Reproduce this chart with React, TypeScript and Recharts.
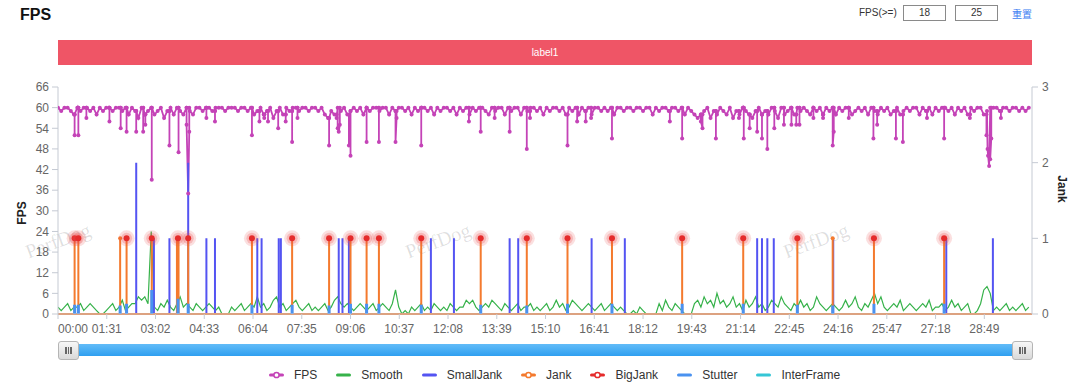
import { ComposedChart, Line, XAxis, YAxis } from 'recharts';

// colours of the series
const FPS_COLOR = '#c443b7';
const SMOOTH_COLOR = '#36b24a';
const SMALL_JANK_COLOR = '#5454f2';
const JANK_COLOR = '#f47a2e';
const BIG_JANK_COLOR = '#e52b2b';
const STUTTER_COLOR = '#4a92f0';
const INTERFRAME_COLOR = '#35c6d6';
const AXIS_COLOR = '#c5cad3';
const FONT = '"Liberation Sans", Arial, Helvetica, sans-serif';

// sampling step (seconds) of fpsBase / smoothValues, and end of the session
const STEP = 6;
const END = 1818;

// FPS, one value every 6 s
const fpsBase = [
  60, 59, 60, 60, 59, 58, 60, 59, 60, 60, 59, 60, 58, 60, 59, 60, 60, 59, 60, 60,
  59, 60, 58, 60, 59, 57, 60, 58, 59, 60, 58, 59, 60, 57, 59, 60, 58, 60, 59, 58,
  60, 59, 58, 60, 60, 59, 60, 60, 59, 60, 60, 60, 59, 60, 60, 60, 59, 60, 60, 59,
  60, 58, 59, 60, 58, 59, 60, 57, 59, 60, 58, 60, 59, 60, 60, 59, 60, 60, 59, 60,
  60, 59, 60, 58, 57, 59, 58, 60, 59, 60, 58, 59, 60, 59, 60, 58, 60, 59, 60, 60,
  59, 60, 60, 58, 60, 59, 60, 60, 59, 60, 58, 60, 59, 60, 60, 59, 60, 58, 60, 59,
  60, 60, 59, 60, 58, 60, 59, 60, 58, 60, 59, 60, 60, 59, 58, 60, 59, 60, 60, 58,
  60, 59, 60, 60, 58, 60, 59, 60, 60, 59, 60, 58, 60, 59, 60, 60, 59, 60, 58, 60,
  59, 60, 58, 60, 59, 60, 58, 60, 60, 59, 60, 59, 60, 58, 60, 60, 59, 60, 60, 59,
  60, 60, 59, 60, 60, 58, 60, 59, 60, 60, 59, 60, 60, 59, 60, 58, 60, 59, 58, 57,
  58, 59, 60, 57, 59, 58, 60, 59, 58, 60, 57, 59, 58, 60, 59, 58, 57, 59, 60, 58,
  59, 58, 60, 59, 57, 60, 58, 59, 60, 58, 60, 59, 60, 59, 58, 60, 59, 60, 58, 60,
  59, 60, 58, 60, 59, 60, 60, 58, 59, 60, 59, 60, 58, 60, 59, 58, 60, 59, 60, 58,
  59, 60, 58, 59, 60, 59, 60, 60, 58, 60, 59, 60, 58, 60, 59, 60, 60, 59, 60, 58,
  60, 59, 60, 58, 60, 59, 60, 60, 58, 59, 60, 60, 60, 59, 60, 60, 59, 60, 60, 59,
  60, 59, 60
];

// FPS drops: [second, fps]
const fpsDips = [
  [31, 52], [38, 52], [53, 57], [96, 56], [117, 54], [128, 53], [146, 53], [159, 53],
  [163, 55], [175, 39], [208, 49], [225, 47], [240, 55], [243, 35], [245, 53], [277, 57],
  [293, 56], [362, 52], [376, 56], [385, 57], [392, 56], [411, 54], [425, 56], [437, 50],
  [447, 57], [506, 49], [520, 57], [522, 54], [524, 53], [526, 55], [543, 49], [546, 46],
  [576, 50], [599, 50], [630, 50], [632, 57], [678, 49], [767, 56], [789, 53], [815, 57],
  [843, 53], [875, 48], [881, 57], [951, 49], [969, 56], [985, 56], [995, 57], [1034, 51],
  [1142, 56], [1165, 51], [1200, 56], [1203, 54], [1228, 51], [1271, 57], [1280, 51],
  [1291, 54], [1305, 53], [1314, 51], [1324, 48], [1337, 54], [1355, 55], [1369, 55],
  [1378, 55], [1384, 55], [1410, 57], [1428, 57], [1446, 49], [1448, 53], [1476, 57],
  [1522, 51], [1529, 55], [1564, 51], [1577, 50], [1622, 57], [1654, 51], [1702, 57],
  [1733, 52], [1735, 48], [1736, 46], [1738, 43], [1740, 45], [1742, 51], [1760, 57]
];

// Smooth, one value every 6 s
const smoothValues = [
  2, 1, 2, 3, 1, 2, 2, 3, 1, 2, 3, 2, 1, 0, 0, 1, 2, 3, 1, 2, 4, 1, 2, 3, 3, 5, 4, 5, 3, 24,
  2, 1, 3, 2, 4, 2, 1, 3, 5, 2, 3, 2, 1, 3, 2, 1, 2, 3, 2, 1, 2, 0, 0, 0, 2, 1, 2, 3, 1, 2,
  3, 2, 5, 2, 3, 1, 2, 4, 5, 2, 3, 1, 2, 3, 4, 2, 1, 2, 3, 1, 2, 1, 2, 3, 1, 2, 4, 5, 3, 2,
  3, 2, 1, 2, 3, 2, 1, 2, 3, 1, 2, 3, 2, 1, 3, 7, 2, 0, 1, 0, 2, 1, 2, 3, 1, 2, 1, 3, 2, 1,
  2, 1, 3, 2, 1, 2, 2, 4, 3, 4, 2, 1, 2, 3, 2, 4, 3, 2, 1, 3, 2, 1, 2, 3, 1, 2, 2, 3, 1, 2,
  1, 2, 3, 1, 2, 4, 2, 3, 1, 2, 4, 3, 2, 1, 2, 3, 2, 1, 2, 3, 1, 2, 3, 2, 1, 2, 1, 0, 0, 1,
  0, 2, 1, 0, 0, 0, 0, 3, 1, 4, 2, 1, 3, 2, 1, 0, 0, 0, 3, 4, 2, 5, 3, 4, 2, 6, 3, 4, 2, 3,
  5, 2, 3, 1, 4, 2, 3, 5, 2, 3, 1, 2, 4, 3, 2, 5, 3, 2, 1, 3, 2, 4, 2, 3, 1, 2, 5, 3, 2, 1,
  2, 3, 2, 1, 2, 4, 2, 3, 5, 2, 1, 3, 2, 4, 6, 3, 5, 2, 1, 2, 3, 2, 4, 1, 2, 3, 2, 1, 2, 3,
  2, 4, 1, 2, 2, 3, 1, 2, 4, 2, 3, 1, 2, 3, 0, 0, 1, 3, 7, 8, 6, 1, 2, 1, 2, 3, 1, 2, 1, 2,
  3, 1, 2
];

// [second, count]
const smallJank = [
  [146, 2], [179, 1], [208, 1], [243, 2], [277, 1], [293, 1], [372, 1], [380, 1], [412, 1],
  [416, 1], [524, 1], [531, 1], [543, 1], [696, 1], [739, 1], [843, 1], [859, 1], [996, 1],
  [1058, 1], [1305, 1], [1314, 1], [1324, 1], [1336, 1], [1447, 1], [1658, 1], [1745, 1]
];

const jankTimes = [
  31, 38, 116, 128, 175, 222, 225, 243, 362, 437, 506, 546, 576, 599, 678, 789, 875, 951,
  1034, 1165, 1279, 1380, 1446, 1523, 1654
];

const bigJankTimes = [
  31, 38, 128, 175, 224, 243, 362, 437, 506, 546, 576, 599, 678, 789, 875, 951, 1034, 1165,
  1279, 1380, 1523, 1654
];

// [second, value]
const stutter = [
  [31, 2.7], [38, 2.7], [116, 2.5], [128, 3], [175, 7], [224, 4.4], [243, 3], [362, 2.7],
  [437, 2.7], [506, 2.5], [546, 3], [576, 3], [599, 3], [678, 2.7], [789, 2.7], [875, 2.5],
  [951, 3], [1034, 3], [1165, 3], [1279, 3], [1380, 2.7], [1446, 2.5], [1523, 3], [1654, 3]
];

const xTicks = [
  0, 91, 182, 273, 364, 455, 546, 637, 728, 819, 910, 1001, 1092, 1183, 1274, 1365, 1456,
  1547, 1638, 1729
];
const fpsTicks = [0, 6, 12, 18, 24, 30, 36, 42, 48, 54, 60, 66];
const jankTicks = [0, 1, 2, 3];

const legendItems = [
  { name: 'FPS', color: FPS_COLOR, dot: true },
  { name: 'Smooth', color: SMOOTH_COLOR, dot: false },
  { name: 'SmallJank', color: SMALL_JANK_COLOR, dot: false },
  { name: 'Jank', color: JANK_COLOR, dot: true },
  { name: 'BigJank', color: BIG_JANK_COLOR, dot: true },
  { name: 'Stutter', color: STUTTER_COLOR, dot: false },
  { name: 'InterFrame', color: INTERFRAME_COLOR, dot: false }
];

const watermarks = [58, 438, 816];

// FPS table: base samples, and each drop as a stem leaving the band and coming back
// (drops less than 3 s apart stay down together)
const fpsData = fpsBase.flatMap((v, i) => {
  const t0 = i * STEP;
  const rows: { t: number; fps: number }[] = [{ t: t0, fps: v }];
  fpsDips.forEach(([t, dv], k) => {
    if (t < t0 || t >= t0 + STEP) return;
    const joinPrev = k > 0 && t - fpsDips[k - 1][0] <= 3;
    const joinNext = k < fpsDips.length - 1 && fpsDips[k + 1][0] - t <= 3;
    if (!joinPrev) rows.push({ t, fps: v });
    rows.push({ t, fps: dv });
    if (!joinNext) rows.push({ t, fps: v });
  });
  return rows;
});

const smoothData = smoothValues.map((v, i) => ({ t: i * STEP, smooth: v }));

// isolated vertical bars (null breaks the line between them)
const bars = (list: number[][], key: string) =>
  list.flatMap(([t, v]) => [{ t, [key]: 0 }, { t, [key]: v }, { t, [key]: null }]);

const smallJankData = bars(smallJank, 'small');
const stutterData = bars(stutter, 'stutter');

const jankData = [
  { t: 0, jank: 0 },
  ...jankTimes.flatMap((t) => [{ t, jank: 0 }, { t, jank: 1 }, { t, jank: 0 }]),
  { t: END, jank: 0 }
];

const bigJankData = bigJankTimes.map((t) => ({ t, big: 1 }));

const pad = (n: number) => String(n).padStart(2, '0');
const fmtTime = (s: number) => `${pad(Math.floor(s / 60))}:${pad(s % 60)}`;

const TimeTick = (props: any) => {
  const { x, y, payload } = props;
  return (
    <text
      x={x}
      y={y}
      dy={12}
      textAnchor={payload.value === 0 ? 'start' : 'middle'}
      fill="#666"
      fontSize={12}
      fontFamily={FONT}
    >
      {fmtTime(payload.value)}
    </text>
  );
};

const JankDot = (props: any) => {
  const { cx, cy, payload, index } = props;
  if (payload.jank !== 1) return <g key={`j-${index}`} />;
  return <circle key={`j-${index}`} cx={cx} cy={cy} r={2} fill={JANK_COLOR} />;
};

const BigJankDot = (props: any) => {
  const { cx, cy, index } = props;
  return (
    <g key={`b-${index}`}>
      <circle cx={cx} cy={cy} r={8} fill="rgba(235, 80, 80, 0.18)" />
      <circle cx={cx} cy={cy} r={5.5} fill="rgba(235, 70, 70, 0.25)" />
      <circle cx={cx} cy={cy} r={3} fill={BIG_JANK_COLOR} />
    </g>
  );
};

const Handle = ({ left }: { left: number }) => (
  <div
    style={{
      position: 'absolute',
      left,
      top: 341,
      width: 21,
      height: 19,
      boxSizing: 'border-box',
      border: '1px solid #b5b5b5',
      borderRadius: 3,
      background: 'linear-gradient(#f7f7f7, #d9d9d9)',
      display: 'flex',
      justifyContent: 'center',
      alignItems: 'center',
      gap: 1
    }}
  >
    {[0, 1, 2].map((k) => (
      <span key={k} style={{ width: 1.5, height: 7, background: '#666' }} />
    ))}
  </div>
);

const App = () => {
  return (
    <div
      style={{
        position: 'absolute',
        left: 0,
        top: 0,
        width: 1080,
        height: 387,
        background: '#fff',
        fontFamily: FONT,
        overflow: 'hidden'
      }}
    >
      <div style={{ position: 'absolute', left: 20, top: 6, fontSize: 16, fontWeight: 'bold', color: '#111' }}>
        FPS
      </div>

      <div style={{ position: 'absolute', left: 859, top: 7, fontSize: 10, color: '#333' }}>FPS(&gt;=)</div>
      {[['18', 903], ['25', 955]].map(([v, left]) => (
        <div
          key={v}
          style={{
            position: 'absolute',
            left: Number(left),
            top: 5,
            width: 43,
            height: 16,
            boxSizing: 'border-box',
            border: '1px solid #8a8a8a',
            fontSize: 10,
            lineHeight: '14px',
            textAlign: 'center',
            color: '#333'
          }}
        >
          {v}
        </div>
      ))}
      <div
        style={{
          position: 'absolute',
          left: 1012,
          top: 6,
          fontSize: 10,
          color: '#3d7ef2',
          fontFamily: '"Noto Sans CJK SC", sans-serif'
        }}
      >
        重置
      </div>

      <div
        style={{
          position: 'absolute',
          left: 58,
          top: 40,
          width: 974,
          height: 25,
          background: '#ef5566',
          color: '#fff',
          fontSize: 10,
          lineHeight: '25px',
          textAlign: 'center'
        }}
      >
        label1
      </div>

      {watermarks.map((cx) => (
        <div
          key={cx}
          style={{
            position: 'absolute',
            left: cx,
            top: 241,
            transform: 'translate(-50%, -50%) rotate(-20deg)',
            fontFamily: '"Liberation Serif", "DejaVu Serif", serif',
            fontSize: 20,
            color: 'rgba(0, 0, 0, 0.13)',
            whiteSpace: 'nowrap'
          }}
        >
          PerfDog
        </div>
      ))}

      <div
        style={{
          position: 'absolute',
          left: 22,
          top: 213,
          transform: 'translate(-50%, -50%) rotate(-90deg)',
          fontSize: 12,
          fontWeight: 'bold',
          color: '#222'
        }}
      >
        FPS
      </div>
      <div
        style={{
          position: 'absolute',
          left: 1062,
          top: 189,
          transform: 'translate(-50%, -50%) rotate(90deg)',
          fontSize: 12,
          fontWeight: 'bold',
          color: '#222'
        }}
      >
        Jank
      </div>

      <div style={{ position: 'absolute', left: 0, top: 0 }}>
        <ComposedChart width={1080} height={345} margin={{ top: 87, right: 8, bottom: 1, left: 18 }}>
          <XAxis
            dataKey="t"
            type="number"
            domain={[0, END]}
            ticks={xTicks}
            interval={0}
            allowDataOverflow
            height={30}
            tick={<TimeTick />}
            tickSize={5}
            axisLine={{ stroke: AXIS_COLOR }}
            tickLine={{ stroke: AXIS_COLOR }}
          />
          <YAxis
            yAxisId="fps"
            domain={[0, 66]}
            ticks={fpsTicks}
            interval={0}
            width={40}
            tickSize={6}
            tickMargin={3}
            tick={{ fill: '#666', fontSize: 12, fontFamily: FONT }}
            axisLine={{ stroke: AXIS_COLOR }}
            tickLine={{ stroke: AXIS_COLOR }}
          />
          <YAxis
            yAxisId="jank"
            orientation="right"
            domain={[0, 3]}
            ticks={jankTicks}
            interval={0}
            width={40}
            tickSize={6}
            tickMargin={4}
            tick={{ fill: '#666', fontSize: 12, fontFamily: FONT }}
            axisLine={{ stroke: AXIS_COLOR }}
            tickLine={{ stroke: AXIS_COLOR }}
          />
          <Line
            data={fpsData}
            dataKey="fps"
            yAxisId="fps"
            type="linear"
            stroke={FPS_COLOR}
            strokeWidth={1.8}
            dot={{ r: 2, fill: FPS_COLOR, stroke: FPS_COLOR, strokeWidth: 0 }}
            isAnimationActive={false}
          />
          <Line
            data={smoothData}
            dataKey="smooth"
            yAxisId="fps"
            type="linear"
            stroke={SMOOTH_COLOR}
            strokeWidth={1.2}
            dot={false}
            isAnimationActive={false}
          />
          <Line
            data={smallJankData}
            dataKey="small"
            yAxisId="jank"
            type="linear"
            stroke={SMALL_JANK_COLOR}
            strokeWidth={2}
            dot={false}
            isAnimationActive={false}
          />
          <Line
            data={jankData}
            dataKey="jank"
            yAxisId="jank"
            type="linear"
            stroke={JANK_COLOR}
            strokeWidth={2}
            dot={<JankDot />}
            isAnimationActive={false}
          />
          <Line
            data={stutterData}
            dataKey="stutter"
            yAxisId="fps"
            type="linear"
            stroke={STUTTER_COLOR}
            strokeWidth={3}
            dot={false}
            isAnimationActive={false}
          />
          <Line
            data={bigJankData}
            dataKey="big"
            yAxisId="jank"
            type="linear"
            stroke="none"
            dot={<BigJankDot />}
            isAnimationActive={false}
          />
        </ComposedChart>
      </div>

      <div
        style={{
          position: 'absolute',
          left: 79,
          top: 344,
          width: 933,
          height: 12,
          background: 'linear-gradient(#62bcf8, #2f9ff0)'
        }}
      />
      <Handle left={58} />
      <Handle left={1012} />

      <div
        style={{
          position: 'absolute',
          left: 269,
          top: 368,
          height: 14,
          display: 'flex',
          alignItems: 'center',
          gap: 19,
          fontSize: 12,
          color: '#333'
        }}
      >
        {legendItems.map((it) => (
          <div key={it.name} style={{ display: 'flex', alignItems: 'center' }}>
            <svg width={15} height={8} style={{ marginRight: 10 }}>
              <rect x={0} y={2.5} width={15} height={3} rx={1.5} fill={it.color} />
              {it.dot && <circle cx={7.5} cy={4} r={2.6} fill="#fff" stroke={it.color} strokeWidth={1.5} />}
            </svg>
            <span>{it.name}</span>
          </div>
        ))}
      </div>
    </div>
  );
};

export default App;
